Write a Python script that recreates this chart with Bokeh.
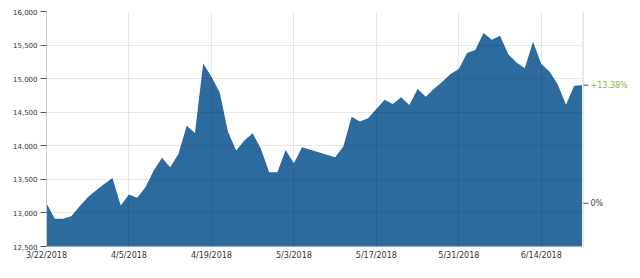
import numpy as np
from bokeh.plotting import figure
from bokeh.layouts import row
from bokeh.models import Range1d, FixedTicker, NumeralTickFormatter, Span
from bokeh.core.properties import value
from bokeh.embed import file_html
from bokeh.resources import INLINE

# ---- data ----
dates = [
    "2018-03-22", "2018-03-23", "2018-03-26", "2018-03-27", "2018-03-28", "2018-03-29",
    "2018-03-30", "2018-04-02", "2018-04-03", "2018-04-04", "2018-04-05", "2018-04-06",
    "2018-04-09", "2018-04-10", "2018-04-11", "2018-04-12", "2018-04-13", "2018-04-16",
    "2018-04-17", "2018-04-18", "2018-04-19", "2018-04-20", "2018-04-23", "2018-04-24",
    "2018-04-25", "2018-04-26", "2018-04-27", "2018-04-30", "2018-05-01", "2018-05-02",
    "2018-05-03", "2018-05-04", "2018-05-10", "2018-05-11", "2018-05-14", "2018-05-15",
    "2018-05-16", "2018-05-17", "2018-05-18", "2018-05-21", "2018-05-22", "2018-05-23",
    "2018-05-24", "2018-05-25", "2018-05-28", "2018-05-29", "2018-05-30", "2018-05-31",
    "2018-06-01", "2018-06-04", "2018-06-05", "2018-06-06", "2018-06-07", "2018-06-08",
    "2018-06-11", "2018-06-12", "2018-06-13", "2018-06-14", "2018-06-15", "2018-06-18",
    "2018-06-19", "2018-06-20", "2018-06-21",
]
values = [
    13144, 12912, 12912, 12951, 13095, 13234,
    13333, 13430, 13522, 13110, 13274, 13225,
    13382, 13631, 13820, 13680, 13879, 14300,
    14192, 15227, 15030, 14796, 14211, 13928,
    14077, 14186, 13954, 13606, 13606, 13939,
    13740, 13978, 13829, 13988, 14434, 14360,
    14409, 14549, 14687, 14623, 14722, 14609,
    14847, 14732, 14851, 14955, 15070, 15144,
    15382, 15427, 15680, 15580, 15640, 15364,
    15242, 15156, 15550, 15218, 15108, 14911,
    14613, 14896, 14903,
]
tick_dates = ["2018-03-22", "2018-04-05", "2018-04-19", "2018-05-03",
              "2018-05-17", "2018-05-31", "2018-06-14"]
tick_labels = ["3/22/2018", "4/5/2018", "4/19/2018", "5/3/2018",
               "5/17/2018", "5/31/2018", "6/14/2018"]
y_ticks = [12500, 13000, 13500, 14000, 14500, 15000, 15500, 16000]

# ---- derived positions (trading-day index) ----
start = np.datetime64(dates[0])
x = np.busday_count(start, np.array(dates, dtype="datetime64[D]")).tolist()
tick_x = np.busday_count(start, np.array(tick_dates, dtype="datetime64[D]")).tolist()
x_end = int(np.busday_count(start, np.datetime64("2018-06-21")))

pct_last = (values[-1] / values[0] - 1) * 100
pct_labels = ["0%", f"+{pct_last:.2f}%"]
pct_vals = [0.0, pct_last]
pct_colors = ["#444444", "#7dc13c"]

FONT = "DejaVu Sans"
TXT = "#333333"

H = 278
ML, MT, MB = 46, 11, 32
W1 = 582
W2 = 640 - W1

p = figure(width=W1, height=H, output_backend="svg", toolbar_location=None,
           x_range=Range1d(0, x_end), y_range=Range1d(y_ticks[0], y_ticks[-1]),
           min_border_left=ML, min_border_right=0, min_border_top=MT, min_border_bottom=MB)
p.outline_line_color = None
p.background_fill_color = "white"
p.border_fill_color = "white"

p.varea(x=x, y1=0, y2=values, fill_color="#2d6a9e")

for g in (p.xgrid, p.ygrid):
    g.level = "annotation"
    g.grid_line_color = "#000000"
    g.grid_line_alpha = 0.09
    g.grid_line_width = 1
p.xgrid.ticker = FixedTicker(ticks=tick_x)
p.ygrid.ticker = FixedTicker(ticks=y_ticks)

xa = p.xaxis[0]
xa.ticker = FixedTicker(ticks=tick_x)
xa.major_label_overrides = {int(t): l for t, l in zip(tick_x, tick_labels)}
xa.axis_line_color = None
xa.major_tick_line_color = None
xa.minor_tick_line_color = None
xa.major_tick_out = 0
xa.major_tick_in = 0
xa.major_label_standoff = 4
xa.major_label_text_font = FONT
xa.major_label_text_font_size = "8px"
xa.major_label_text_color = TXT

ya = p.yaxis[0]
ya.ticker = FixedTicker(ticks=y_ticks)
ya.formatter = NumeralTickFormatter(format="0,0")
ya.axis_line_color = "#cccccc"
ya.major_tick_line_color = "#555555"
ya.major_tick_out = 6
ya.major_tick_in = 0
ya.minor_tick_line_color = None
ya.major_label_standoff = 3
ya.major_label_text_font = FONT
ya.major_label_text_font_size = "7px"
ya.major_label_text_color = TXT

# right-hand percentage scale, drawn in a narrow side figure sharing the layout height
pct_range = Range1d((y_ticks[0] / values[0] - 1) * 100, (y_ticks[-1] / values[0] - 1) * 100)
p2 = figure(width=W2, height=H, output_backend="svg", toolbar_location=None,
            x_range=Range1d(0, W2), y_range=pct_range,
            x_axis_location=None, y_axis_location=None,
            min_border_left=0, min_border_right=0, min_border_top=MT, min_border_bottom=MB)
p2.outline_line_color = None
p2.grid.visible = False
p2.border_fill_color = "white"
p2.background_fill_color = "white"
p2.add_layout(Span(location=0.5, dimension="height", line_color="#cccccc", line_width=1))
p2.segment(x0=0, x1=6, y0=pct_vals, y1=pct_vals, line_color="#555555", line_width=1)
p2.text(x=8, y=pct_vals, text=pct_labels, text_color=pct_colors,
        text_font=value(FONT), text_font_size="8px", text_baseline="middle", text_align="left")

layout = row(p, p2, spacing=0)
open("out.html", "w").write(file_html(layout, INLINE))
